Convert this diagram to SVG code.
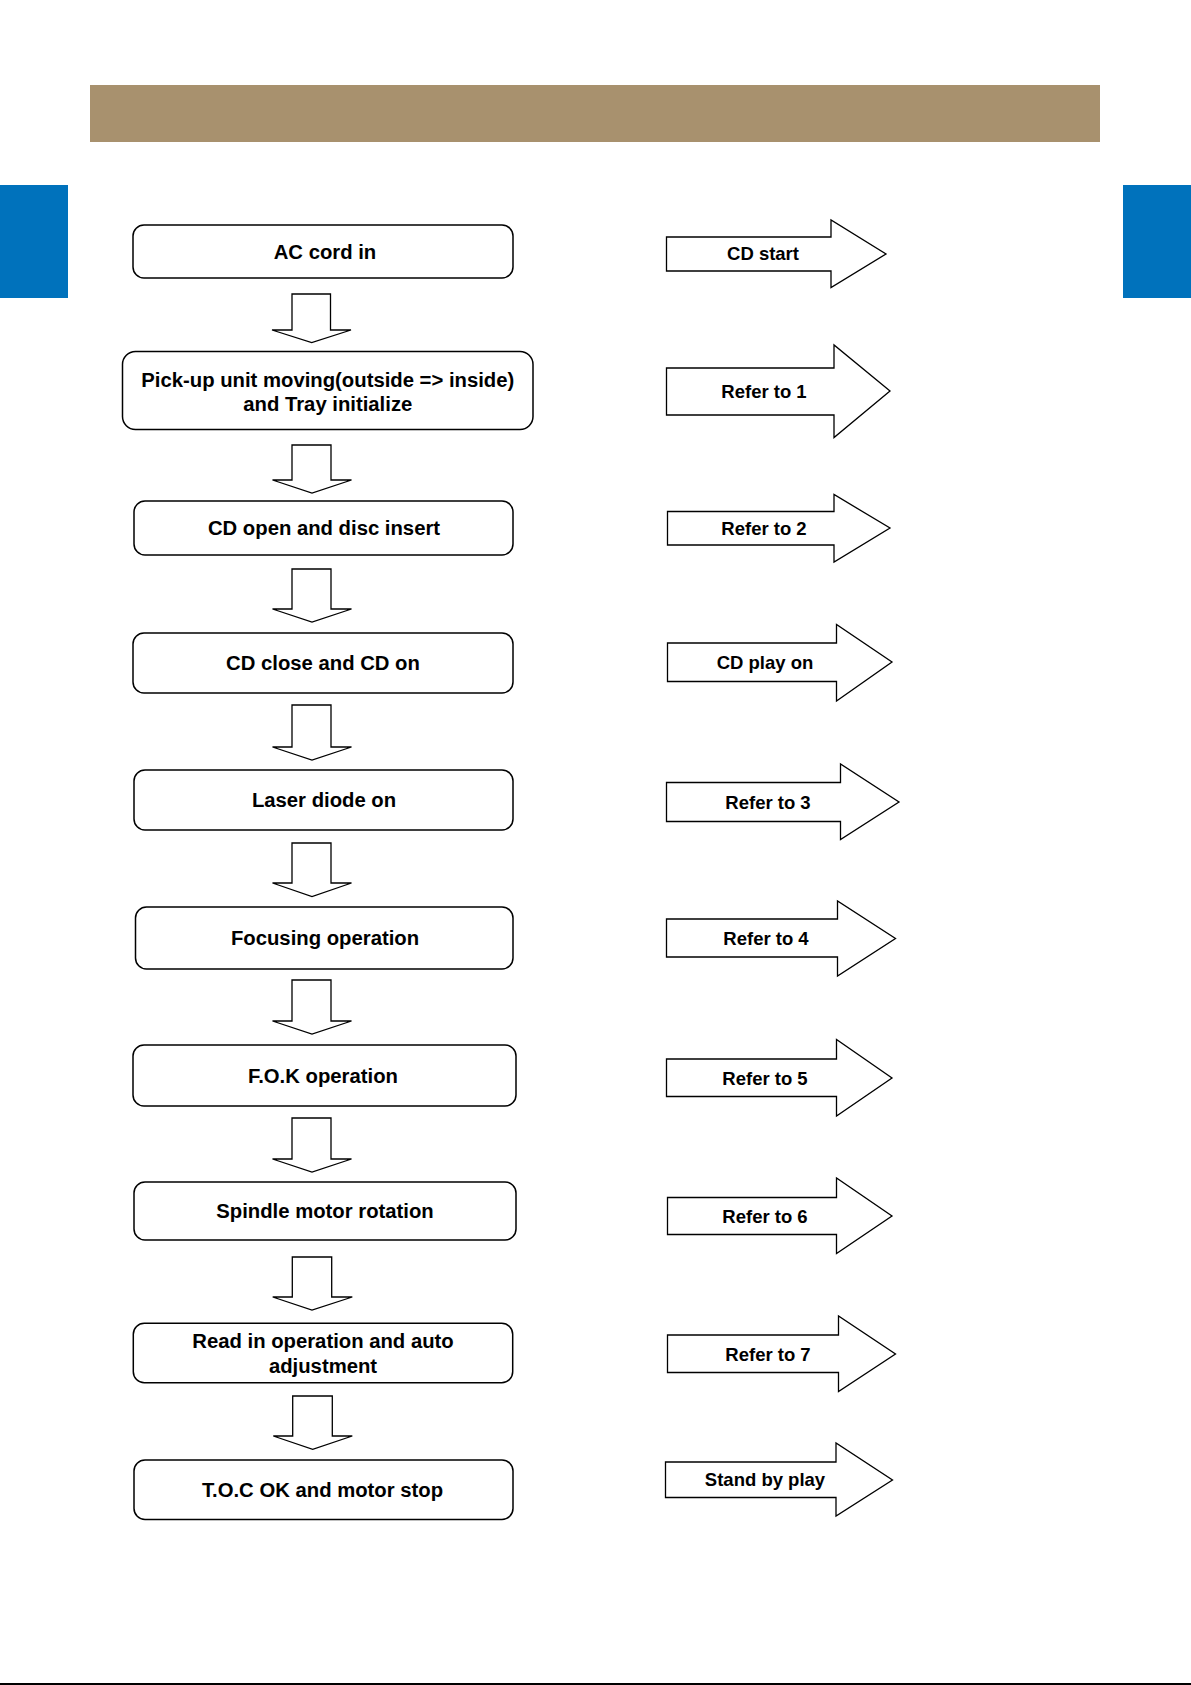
<svg xmlns="http://www.w3.org/2000/svg" width="1191" height="1685" viewBox="0 0 1191 1685">
<style>
.box{fill:#fff;stroke:#000;stroke-width:1.5}
.arr{fill:#fff;stroke:#000;stroke-width:1.3;stroke-linejoin:miter}
.t{font-family:"Liberation Sans",Arial,sans-serif;font-weight:bold;font-size:20.3px;fill:#000;text-anchor:middle}
.r{font-family:"Liberation Sans",Arial,sans-serif;font-weight:bold;font-size:18.5px;fill:#000;text-anchor:middle}
</style>
<rect width="1191" height="1685" fill="#fff"/>
<rect x="90" y="85" width="1010" height="57" fill="#A8916E"/>
<rect x="0" y="185" width="68" height="113" fill="#0072BC"/>
<rect x="1123" y="185" width="68" height="113" fill="#0072BC"/>
<rect x="0" y="1683" width="1191" height="2" fill="#000"/>

<g id="connectors">
<path class="arr" d="M292,294 H330.5 V330 H351 L311.7,342.5 L272,330 H292 Z"/>
<path class="arr" d="M292,445 H331 V480 H351.5 L312,493 L272.5,480 H292 Z"/>
<path class="arr" d="M292,569 H331 V609 H351.5 L312,622 L272.5,609 H292 Z"/>
<path class="arr" d="M292,705 H331 V747 H351.5 L312,760 L272.5,747 H292 Z"/>
<path class="arr" d="M292,843 H331 V883 H351.5 L312,896.5 L272.5,883 H292 Z"/>
<path class="arr" d="M292,980 H331 V1021 H351.5 L312,1034 L272.5,1021 H292 Z"/>
<path class="arr" d="M292,1118 H331 V1159 H351.5 L312,1172 L272.5,1159 H292 Z"/>
<path class="arr" d="M292.3,1257 H331.7 V1297 H352.3 L312,1310 L272.7,1297 H292.3 Z"/>
<path class="arr" d="M292.7,1396 H332.3 V1436 H352.3 L312.7,1449.3 L273.3,1436 H292.7 Z"/>
</g>

<g id="n1"><rect class="box" x="133" y="225" width="380" height="53" rx="11"/><text class="t" x="325" y="259">AC cord in</text></g>
<g id="n2"><rect class="box" x="122.5" y="351.5" width="410.5" height="78" rx="13"/><text class="t" x="327.8" y="386.5">Pick-up unit moving(outside =&gt; inside)</text><text class="t" x="327.8" y="411">and Tray initialize</text></g>
<g id="n3"><rect class="box" x="134" y="501" width="379" height="54" rx="11"/><text class="t" x="324" y="535">CD open and disc insert</text></g>
<g id="n4"><rect class="box" x="133" y="633" width="380" height="60" rx="11"/><text class="t" x="323" y="670">CD close and CD on</text></g>
<g id="n5"><rect class="box" x="134" y="770" width="379" height="60" rx="11"/><text class="t" x="324" y="807">Laser diode on</text></g>
<g id="n6"><rect class="box" x="135.5" y="907" width="377.5" height="62" rx="11"/><text class="t" x="325" y="945">Focusing operation</text></g>
<g id="n7"><rect class="box" x="133" y="1045" width="383" height="61" rx="11"/><text class="t" x="323" y="1083">F.O.K operation</text></g>
<g id="n8"><rect class="box" x="134" y="1182" width="382" height="58" rx="11"/><text class="t" x="325" y="1218">Spindle motor rotation</text></g>
<g id="n9"><rect class="box" x="133.3" y="1323.3" width="379.4" height="59.4" rx="11"/><text class="t" x="323" y="1347.5">Read in operation and auto</text><text class="t" x="323" y="1372.5">adjustment</text></g>
<g id="n10"><rect class="box" x="134" y="1460" width="379" height="59.5" rx="11"/><text class="t" x="322.5" y="1496.5">T.O.C OK and motor stop</text></g>

<g id="r1"><path class="arr" d="M666.5,237 H831 V220 L886,254 L831,287.5 V271 H666.5 Z"/><text class="r" x="763" y="260">CD start</text></g>
<g id="r2"><path class="arr" d="M666.5,368 H834 V345 L890,391 L834,437.5 V415 H666.5 Z"/><text class="r" x="764" y="398">Refer to 1</text></g>
<g id="r3"><path class="arr" d="M667.5,511.5 H834 V494.5 L890,528 L834,562 V545 H667.5 Z"/><text class="r" x="764" y="535">Refer to 2</text></g>
<g id="r4"><path class="arr" d="M667.5,643 H836.5 V624.5 L892,662 L836.5,701 V681.5 H667.5 Z"/><text class="r" x="765" y="669">CD play on</text></g>
<g id="r5"><path class="arr" d="M666.5,782.5 H840.5 V764 L899,802 L840.5,839.5 V821.5 H666.5 Z"/><text class="r" x="768" y="809">Refer to 3</text></g>
<g id="r6"><path class="arr" d="M666.5,919 H837.5 V901 L895.5,938.5 L837.5,976 V957 H666.5 Z"/><text class="r" x="766" y="945">Refer to 4</text></g>
<g id="r7"><path class="arr" d="M666.5,1059 H836.5 V1039.5 L892,1078 L836.5,1116 V1096.5 H666.5 Z"/><text class="r" x="765" y="1085">Refer to 5</text></g>
<g id="r8"><path class="arr" d="M667.5,1197.5 H836.5 V1178 L892,1216 L836.5,1253.5 V1234.5 H667.5 Z"/><text class="r" x="765" y="1223">Refer to 6</text></g>
<g id="r9"><path class="arr" d="M667.5,1335 H838.5 V1316 L895.5,1354 L838.5,1391.5 V1372.5 H667.5 Z"/><text class="r" x="768" y="1361">Refer to 7</text></g>
<g id="r10"><path class="arr" d="M665.5,1462 H836 V1443 L892.5,1480 L836,1516 V1497.5 H665.5 Z"/><text class="r" x="765" y="1486">Stand by play</text></g>
</svg>
